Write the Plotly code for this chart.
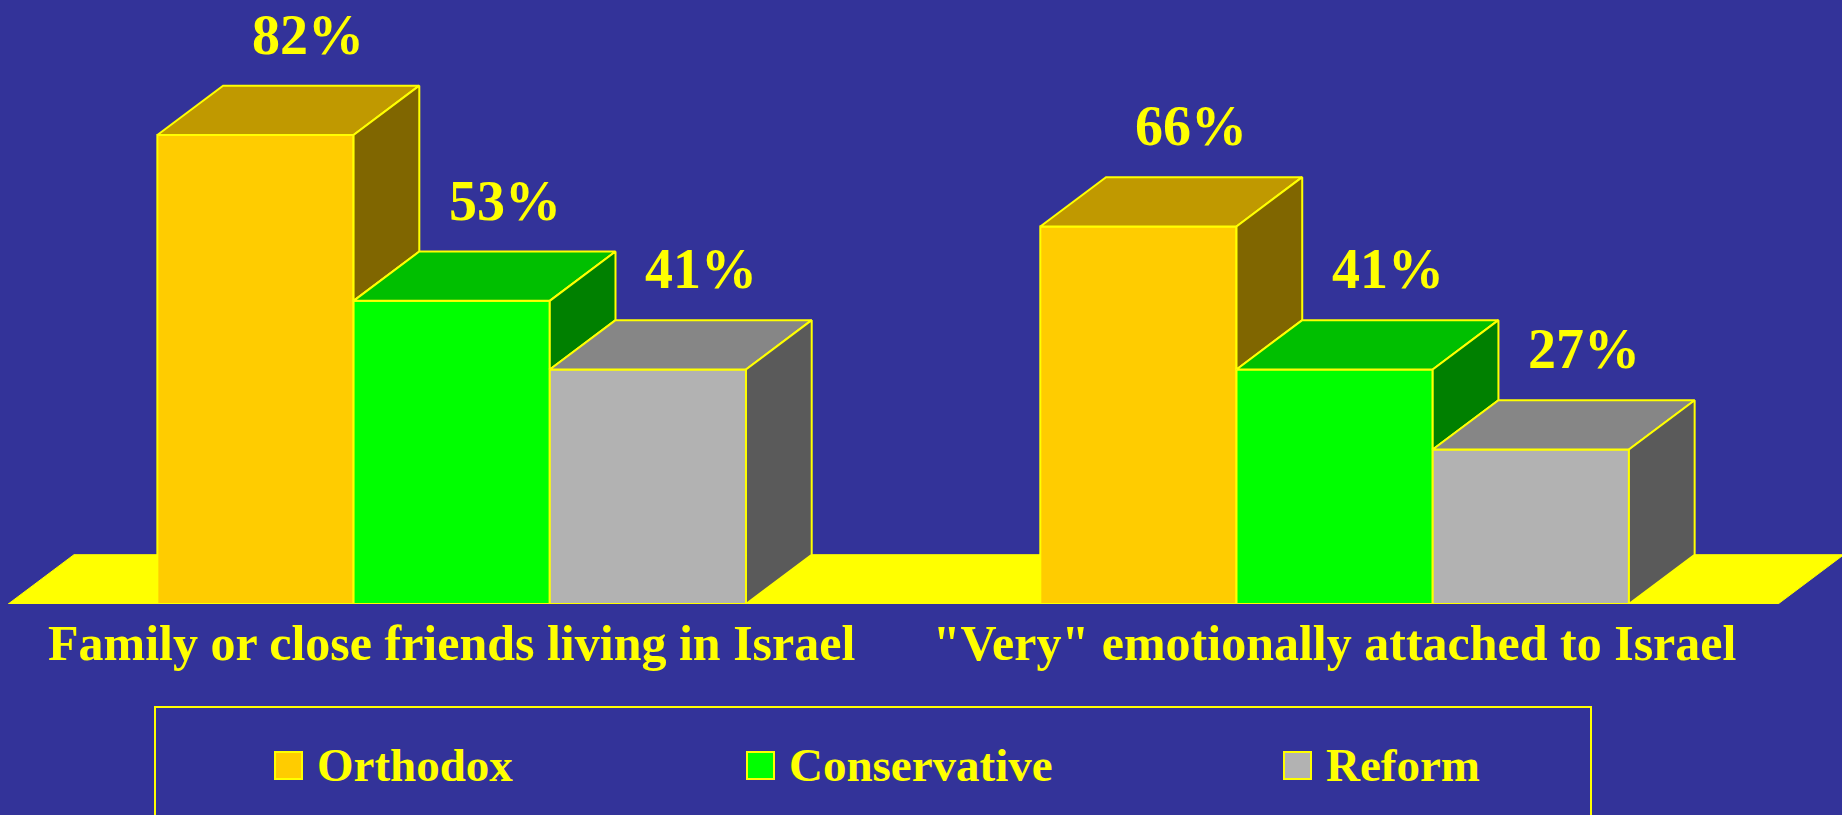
import plotly.graph_objects as go

# Data
categories = ["Family or close friends living in Israel", "\"Very\" emotionally attached to Israel"]
series_names = ["Orthodox", "Conservative", "Reform"]
orthodox = [82, 66]
conservative = [53, 41]
reform = [41, 27]

values = [orthodox, conservative, reform]

# Face colours per series (front, top, side)
FRONT = ["#FFCC00", "#00FF00", "#B2B2B2"]
TOP = ["#C09900", "#00BF00", "#868686"]
SIDE = ["#806600", "#008000", "#5A5A5A"]
EDGE = "#FFFF00"
BG = "#333399"
FONT = "Liberation Serif"

W, H = 1842, 815
M_T, M_B = 32, 211
GROUP_STEP = 4.5      # distance between group starts, in bar widths
DX, DY = 0.335, 8.62  # depth offset of the 3d boxes (x units, y units)
FLOOR_PAD = 0.76


def xpos(g, s):
    return g * GROUP_STEP + s


def px_x(px):
    return px / W


def px_y(py):
    return (H - M_B - py) / (H - M_T - M_B)


fig = go.Figure()

# front faces
for s, name in enumerate(series_names):
    fig.add_trace(
        go.Bar(
            name=name,
            x=[xpos(g, s) for g in range(len(categories))],
            y=values[s],
            width=1,
            marker=dict(color=FRONT[s], line=dict(color=EDGE, width=2)),
            showlegend=False,
            hoverinfo="skip",
        )
    )

# top and visible side faces
for s in range(len(series_names)):
    tx, ty, sx, sy = [], [], [], []
    for g in range(len(categories)):
        h = values[s][g]
        x0 = xpos(g, s) - 0.5
        x1 = xpos(g, s) + 0.5
        tx += [x0, x1, x1 + DX, x0 + DX, x0, None]
        ty += [h, h, h + DY, h + DY, h, None]
        lo = min(h, values[s + 1][g]) if s + 1 < len(series_names) else 0
        sx += [x1, x1 + DX, x1 + DX, x1, x1, None]
        sy += [lo, lo + DY, h + DY, h, lo, None]
    for fx, fy, col in [(tx, ty, TOP[s]), (sx, sy, SIDE[s])]:
        fig.add_trace(
            go.Scatter(
                x=fx, y=fy, mode="lines", fill="toself", fillcolor=col,
                line=dict(color=EDGE, width=2), showlegend=False, hoverinfo="skip",
            )
        )

# value labels
annotations = []
for s in range(len(series_names)):
    for g in range(len(categories)):
        v = values[s][g]
        annotations.append(
            dict(
                x=xpos(g, s) + 0.27, y=v + DY, text=f"{v}%", showarrow=False,
                yanchor="bottom", yshift=18,
                font=dict(family=FONT, size=56, color=EDGE, weight="bold"),
            )
        )

# floor
fx0 = xpos(0, 0) - 0.5 - FLOOR_PAD
fx1 = xpos(len(categories) - 1, len(series_names) - 1) + 0.5 + FLOOR_PAD
shapes = [
    dict(
        type="path", xref="x", yref="y", layer="below",
        path=f"M {fx0},0 L {fx1},0 L {fx1 + DX},{DY} L {fx0 + DX},{DY} Z",
        fillcolor="#FFFF00", line=dict(color="#FFFF00", width=1),
    )
]

# legend box and entries
shapes.append(
    dict(
        type="rect", xref="paper", yref="paper",
        x0=px_x(155), x1=px_x(1591), y0=px_y(707), y1=px_y(840),
        line=dict(color=EDGE, width=2), fillcolor="rgba(0,0,0,0)",
    )
)
legend_x = [275, 747, 1284]
for s, name in enumerate(series_names):
    lx = legend_x[s]
    shapes.append(
        dict(
            type="rect", xref="paper", yref="paper",
            x0=px_x(lx), x1=px_x(lx + 27), y0=px_y(752), y1=px_y(779),
            fillcolor=FRONT[s], line=dict(color=EDGE, width=2),
        )
    )
    annotations.append(
        dict(
            xref="paper", yref="paper", x=px_x(lx + 40), y=px_y(765),
            xanchor="left", yanchor="middle", text=name, showarrow=False,
            font=dict(family=FONT, size=47, color=EDGE, weight="bold"),
        )
    )

fig.update_layout(
    width=W,
    height=H,
    paper_bgcolor=BG,
    plot_bgcolor=BG,
    barmode="overlay",
    showlegend=False,
    margin=dict(l=0, r=0, t=M_T, b=M_B),
    xaxis=dict(
        range=[-1.302, 8.086],
        tickvals=[xpos(g, 1) for g in range(len(categories))],
        ticktext=categories,
        tickfont=dict(family=FONT, size=50, color=EDGE, weight="bold"),
        ticks="",
        ticklabelstandoff=5,
        showgrid=False, zeroline=False, showline=False,
    ),
    yaxis=dict(range=[0, 100], visible=False),
    shapes=shapes,
    annotations=annotations,
)

fig.write_html(
    "out.html",
    config={"displayModeBar": False},
    post_script="document.body.style.margin='0'; document.body.style.background='#333399';",
)
